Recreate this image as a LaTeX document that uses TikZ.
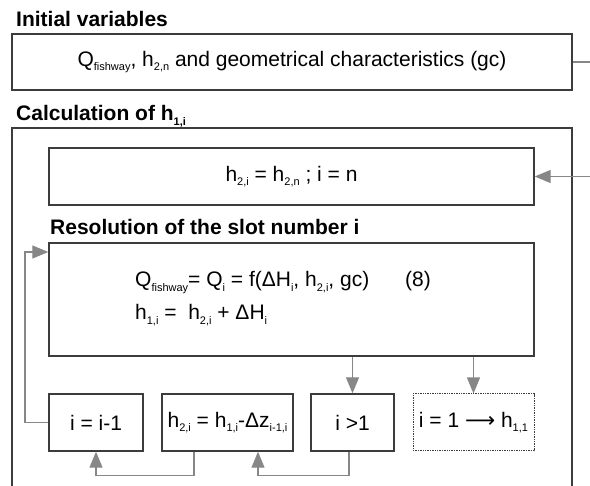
\documentclass[tikz,border=0pt]{standalone}
\usepackage{fontspec}
\setmainfont{Liberation Sans}
\newfontfamily\arrowfont{DejaVu Sans}
\usepackage{xcolor}
\usetikzlibrary{arrows.meta,positioning,calc}
\definecolor{framegray}{RGB}{60,60,60}
\definecolor{linkgray}{RGB}{135,135,135}
\newcommand{\lo}[1]{\raisebox{-0.22em}{\fontsize{11}{11}\selectfont #1}}

\begin{document}
\begin{tikzpicture}[
    x=1pt, y=-1pt,
    every node/.style={font=\fontsize{21}{25}\selectfont},
    box/.style={
      rectangle,
      draw=framegray,
      line width=1.4pt,
      inner sep=0pt,
      align=center
    },
    dotbox/.style={box, densely dotted, line width=1pt},
    head/.style={font=\fontsize{21}{25}\selectfont\bfseries, anchor=base west, inner sep=0pt},
    line/.style={anchor=base west, inner sep=0pt},
    link/.style={draw=linkgray, line width=1.2pt},
    arrow/.style={link, -{Triangle[length=16pt,width=13pt]}}
  ]
    \useasboundingbox (0,0) rectangle (590,486);

    \node[head] (headinit) at (16,27) {Initial variables};
    \node[box, minimum width=560, minimum height=56] (init) at (292,62)
      {Q\lo{fishway}, h\lo{2,n} and geometrical characteristics (gc)};

    \node[head] (headcalc) at (16,121) {Calculation of h\lo{1,i}};
    \draw[framegray, line width=1.4pt] (12,500) |- (572,128) -- (572,500);

    \node[box, minimum width=485, minimum height=57] (start) at (291.5,176.5)
      {h\lo{2,i} = h\lo{2,n} ; i = n};

    \node[head] (headreso) at (50,235) {Resolution of the slot number i};
    \node[box, minimum width=485, minimum height=113] (reso) at (291.5,299.5) {};
    \node[line] (eqq) at (135,287) {Q\lo{fishway}= Q\lo{i} = f(ΔH\lo{i}, h\lo{2,i}, gc)};
    \node[line] (eqnum) at (405,287) {(8)};
    \node[line] (eqh) at (135,320) {h\lo{1,i} =\ \ h\lo{2,i} + ΔH\lo{i}};

    \node[box, minimum width=94, minimum height=57] (dec) at (96,422.5) {i = i-1};
    \node[box, minimum width=131, minimum height=57] (upd) at (227.5,422.5)
      {h\lo{2,i} = h\lo{1,i}-Δz\lo{i-1,i}};
    \node[box, minimum width=83, minimum height=57] (gt) at (352.5,422.5) {i >1};
    \node[dotbox, minimum width=121, minimum height=57] (last) at (473.5,422.5)
      {i = 1 {\arrowfont ⟶} h\lo{1,1}};

    \coordinate (rimtop) at (590,62);
    \coordinate (rimmid) at (590,176.5);
    \coordinate (loop) at (25,252);

    \draw[link] (init) -- (rimtop);
    \draw[arrow] (rimmid) -- (start);
    \draw[arrow] (dec.west) -| (loop) -- (loop -| reso.west);
    \draw[arrow] (reso.south -| gt) -- (gt);
    \draw[arrow] (reso.south -| last) -- (last);
    \draw[arrow] ([xshift=-33.5pt]upd.south) -- ++(0,24) -| (dec.south);
    \draw[arrow] ([xshift=-3.5pt]gt.south) -- ++(0,24) -| ([xshift=30.5pt]upd.south);
  \end{tikzpicture}
\end{document}
